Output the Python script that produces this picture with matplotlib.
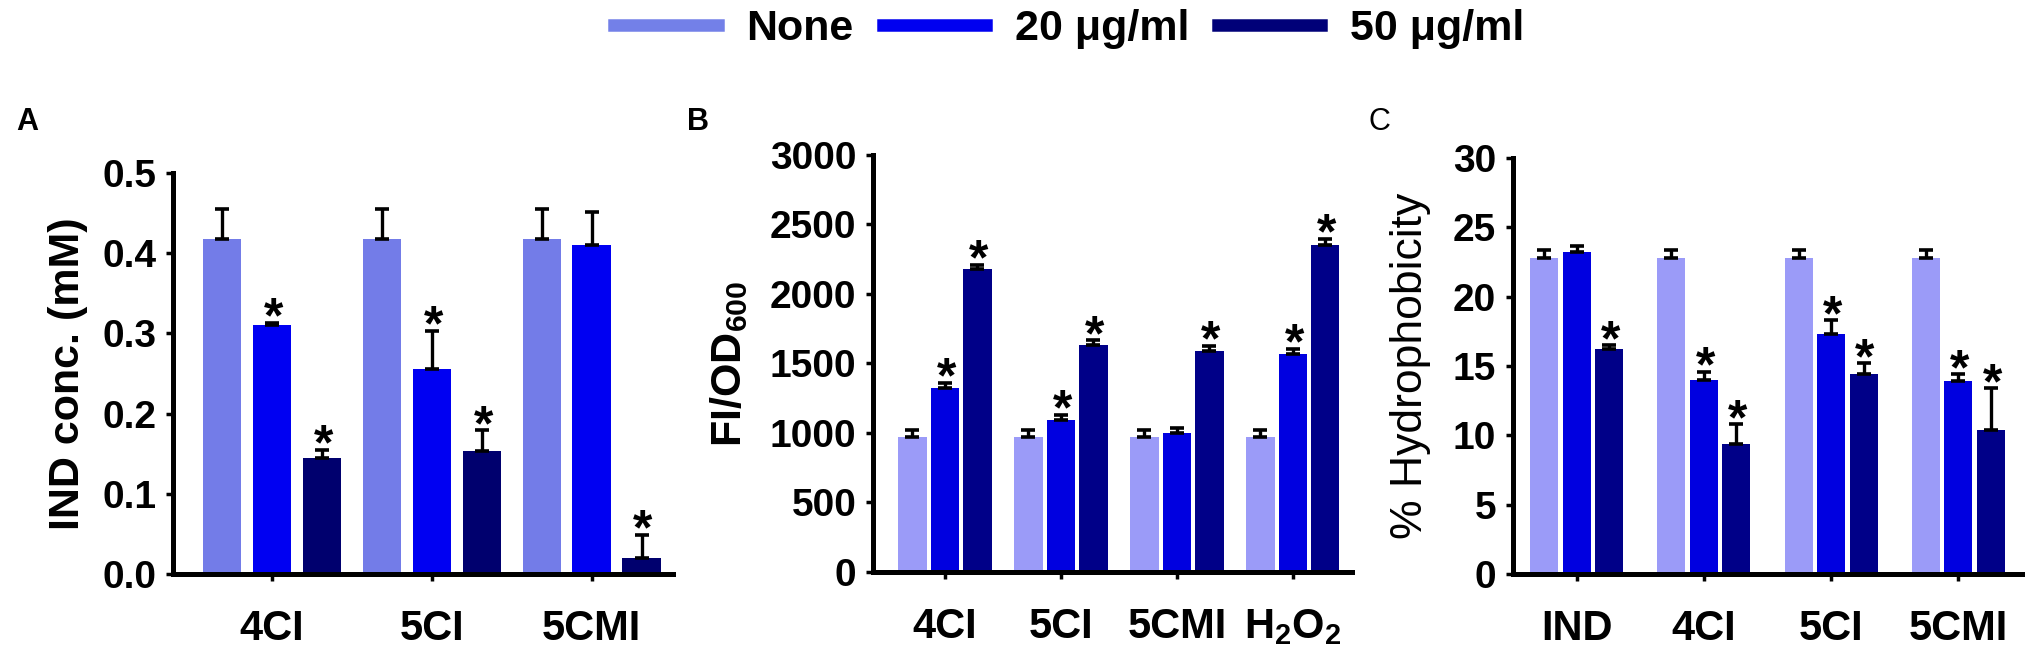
import matplotlib
matplotlib.use("Agg")
import matplotlib.pyplot as plt
from matplotlib.lines import Line2D
import numpy as np

plt.rcParams["font.family"] = ["Liberation Sans", "DejaVu Sans"]
plt.rcParams["mathtext.fontset"] = "custom"
plt.rcParams["mathtext.rm"] = "Liberation Sans"
plt.rcParams["mathtext.bf"] = "Liberation Sans:bold"

series = ["None", "20 \u03bcg/ml", "50 \u03bcg/ml"]

# panel A - indole concentration
a_groups = ["4CI", "5CI", "5CMI"]
a_mean = [[0.418, 0.418, 0.418], [0.310, 0.256, 0.410], [0.145, 0.154, 0.020]]
a_err = [[0.037, 0.037, 0.037], [0.003, 0.047, 0.041], [0.010, 0.025, 0.029]]
a_sig = [[0, 0, 0], [1, 1, 0], [1, 1, 1]]

# panel B - FI/OD600
b_groups = ["4CI", "5CI", "5CMI", r"H$_{\mathregular{2}}$O$_{\mathregular{2}}$"]
b_mean = [[970, 970, 970, 970], [1324, 1095, 1000, 1570], [2180, 1632, 1592, 2355]]
b_err = [[50, 50, 50, 50], [36, 38, 39, 36], [31, 36, 36, 42]]
b_sig = [[0, 0, 0, 0], [1, 1, 0, 1], [1, 1, 1, 1]]

# panel C - hydrophobicity
c_groups = ["IND", "4CI", "5CI", "5CMI"]
c_mean = [[22.8, 22.8, 22.8, 22.8], [23.2, 14.0, 17.3, 13.95], [16.2, 9.4, 14.45, 10.4]]
c_err = [[0.55, 0.55, 0.55, 0.55], [0.45, 0.6, 1.0, 0.45], [0.3, 1.4, 0.75, 3.0]]
c_sig = [[0, 0, 0, 0], [0, 1, 1, 1], [1, 1, 1, 1]]

legend_colors = ["#7380E8", "#0000F0", "#000078"]
a_colors = ["#737CE8", "#0000F2", "#00006E"]
bc_colors = ["#9B9BF8", "#0000E0", "#000088"]

fig = plt.figure(figsize=(20.33, 6.54), dpi=100)


def panel(rect, groups, means, errs, sig, colors, width, step, xlim, ylim, yticks,
          ylabel, letter, letter_pos, bold=True, ticklabels=None, ylabel_size=31,
          labelpad=10):
    ax = fig.add_axes(rect)
    x = np.arange(len(groups))
    for i in range(3):
        pos = x + (i - 1) * step
        ax.bar(pos, means[i], width, color=colors[i], zorder=2)
        ax.errorbar(pos, means[i], yerr=[np.zeros(len(groups)), errs[i]], fmt="none",
                    ecolor="black", elinewidth=2.4, capsize=5, capthick=2.6, zorder=3)
        for p, m, e, s in zip(pos, means[i], errs[i], sig[i]):
            if s:
                ax.annotate("*", (p, m + e), xytext=(1, -7), textcoords="offset points",
                            ha="center", va="baseline", fontsize=36, fontweight="bold")
    ax.set_xlim(xlim)
    ax.set_ylim(ylim)
    ax.set_yticks(yticks)
    ax.set_yticklabels(ticklabels if ticklabels else [str(t) for t in yticks])
    ax.set_xticks(x)
    ax.set_xticklabels(groups)
    for side in ["top", "right"]:
        ax.spines[side].set_visible(False)
    for side in ["left", "bottom"]:
        ax.spines[side].set_linewidth(3.6)
    ax.tick_params(axis="both", width=2.5, length=5)
    ax.tick_params(axis="y", labelsize=28, pad=7)
    ax.tick_params(axis="x", labelsize=30, pad=20)
    for lab in ax.get_xticklabels() + ax.get_yticklabels():
        lab.set_fontweight("bold")
    ax.set_ylabel(ylabel, fontsize=ylabel_size, fontweight="bold" if bold else "normal",
                  labelpad=labelpad)
    fig.text(letter_pos[0], letter_pos[1], letter, fontsize=22,
             fontweight="bold" if bold else "normal", ha="left", va="center")
    return ax


panel([0.0851, 0.1223, 0.246, 0.613], a_groups, a_mean, a_err, a_sig, a_colors,
      0.24, 0.3125, (-0.62, 2.51), (0, 0.5), [0.0, 0.1, 0.2, 0.3, 0.4, 0.5],
      "IND conc. (mM)", "A", (0.008, 0.813),
      ticklabels=["0.0", "0.1", "0.2", "0.3", "0.4", "0.5"])

panel([0.4294, 0.1254, 0.2356, 0.6376], b_groups, b_mean, b_err, b_sig, bc_colors,
      0.245, 0.28, (-0.62, 3.51), (0, 3000), [0, 500, 1000, 1500, 2000, 2500, 3000],
      r"FI/OD$_{\mathregular{600}}$", "B", (0.338, 0.813), labelpad=14)

panel([0.7442, 0.1223, 0.2504, 0.636], c_groups, c_mean, c_err, c_sig, bc_colors,
      0.22, 0.255, (-0.50, 3.50), (0, 30), [0, 5, 10, 15, 20, 25, 30],
      "% Hydrophobicity", "C", (0.673, 0.813), bold=False, ylabel_size=32,
      labelpad=16)

handles = [Line2D([0], [0], color=c, lw=9) for c in legend_colors]
fig.legend(handles, series, loc="center", bbox_to_anchor=(0.526, 0.955), ncol=3,
           frameon=False, handlelength=2.4, handletextpad=0.67, columnspacing=0.67,
           prop={"weight": "bold", "size": 31})

fig.savefig("out.png", dpi=100)
